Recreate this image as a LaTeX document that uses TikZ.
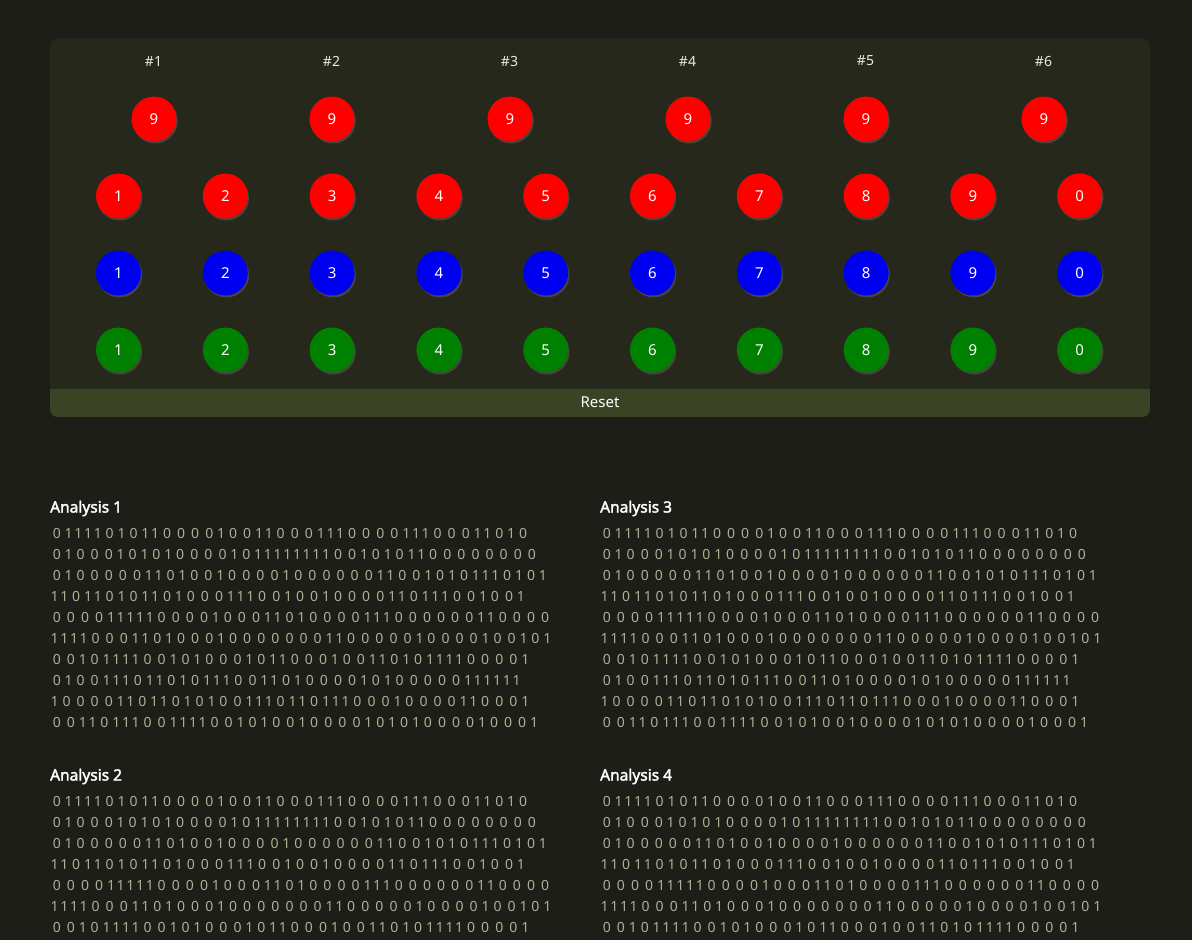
\documentclass[tikz,border=0pt]{standalone}
\usepackage{fontspec}
\setmainfont{Noto Sans}
\newfontfamily\titlefont[FakeBold=2.2]{Noto Sans}
\usetikzlibrary{shadows}
\definecolor{bgcol}{HTML}{1C1E17}
\definecolor{panelcol}{HTML}{26281C}
\definecolor{barcol}{HTML}{3A4424}
\definecolor{digitcol}{HTML}{B2AF96}
\definecolor{headcol}{HTML}{ECEAD8}
\definecolor{redc}{HTML}{FF0000}
\definecolor{bluec}{HTML}{0000F0}
\definecolor{greenc}{HTML}{008000}
\def\bitline#1{\bitl#1\relax}
\def\bitl#1{\ifx\relax#1\else\bitcell{#1}\expandafter\bitl\fi}
\def\bitcell#1{\if0#1\makebox[14.1pt]{0}\else\makebox[9.7pt]{1}\fi}
\tikzset{
  ball/.style={circle, minimum size=45pt, inner sep=0pt, fill=#1, text=white,
    font=\fontsize{15}{15}\selectfont,
    drop shadow={opacity=0.35, shadow xshift=1.2pt, shadow yshift=-2pt}},
  header/.style={text=headcol, inner sep=0pt, font=\fontsize{14}{14}\selectfont},
  title/.style={text=white, inner sep=0pt, font=\titlefont\fontsize{15.5}{16}\selectfont},
  bits/.style={text=digitcol, inner sep=0pt, anchor=west, font=\fontsize{14}{14}\selectfont},
}
\begin{document}
\begin{tikzpicture}[x=1pt,y=-1pt]
\useasboundingbox (0,0) rectangle (1192,940);
\fill[bgcol] (0,0) rectangle (1192,940);
% panel
\fill[panelcol, rounded corners=8pt] (50,38) rectangle (1150,417);
\begin{scope}
  \clip[rounded corners=8pt] (50,38) rectangle (1150,417);
  \fill[barcol] (50,389) rectangle (1150,417);
\end{scope}
\node[text=white, inner sep=0pt, font=\fontsize{15}{15}\selectfont] (reset) at (600,402) {Reset};
% headers and top circles
\foreach \i in {0,...,5} {
  \pgfmathtruncatemacro{\n}{\i+1}
  \node[header] (h\n) at ({153.5+178*\i},61) {\#\n};
  \node[ball=redc] (top\n) at ({154+178*\i},119) {9};
}
% rows
\foreach \i/\lab in {0/1,1/2,2/3,3/4,4/5,5/6,6/7,7/8,8/9,9/0} {
  \node[ball=redc] (red\i) at ({118.5+106.8*\i},196) {\lab};
  \node[ball=bluec] (blue\i) at ({118.5+106.8*\i},273) {\lab};
  \node[ball=greenc] (green\i) at ({118.5+106.8*\i},350) {\lab};
}
% analyses
\foreach \ax/\ay/\nm/\nl in {49.6/533.7/1/10, 49.6/801.7/2/7, 599.6/533.7/3/10, 599.6/801.7/4/7} {
  \node[title, anchor=base west] (title\nm) at ({\ax+0.4},{\ay-21.2}) {Analysis \nm};
  \foreach \s [count=\k] in {0111101011000010011000111000011100011010,
    0100010101000010111111110010101100000000,
    0100000110100100001000000110010101110101,
    1101101011010001110010010000110111001001,
    0000111110000100011010000111000000110000,
    1111000110100010000000110000010000100101,
    0010111100101000101100010011010111100001,
    0100111011010111001101000010100000111111,
    1000011011010100111011011100010000110001,
    0011011100111100101001000010101000010001} {
    \ifnum\k>\nl\else
      \node[bits] (bits\nm-\k) at ({\ax},{\ay+21*(\k-1)}) {\expandafter\bitline\expandafter{\s}};
    \fi
  }
}
\end{tikzpicture}
\end{document}
